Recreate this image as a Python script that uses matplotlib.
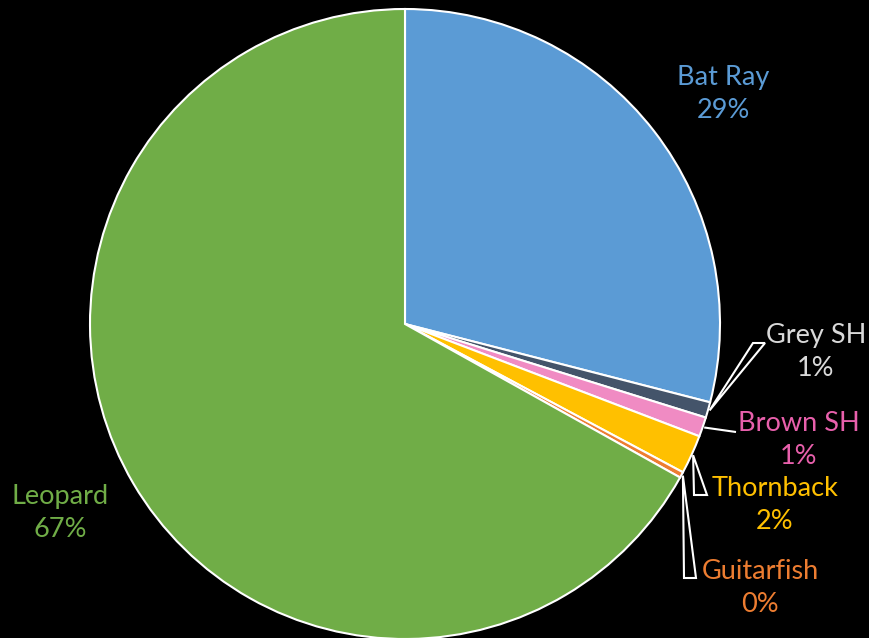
import matplotlib.pyplot as plt
from matplotlib.patches import Polygon
import numpy as np

# slice data (percent), clockwise from 12 o'clock
species = ['Bat Ray', 'Grey SH', 'Brown SH', 'Thornback', 'Guitarfish', 'Leopard']
shares = [29.0, 0.8, 1.0, 2.0, 0.3, 66.9]
labels_pct = ['29%', '1%', '1%', '2%', '0%', '67%']

slice_colors = ['#5B9BD5', '#44546A', '#F08BC3', '#FFC000', '#ED7D31', '#70AD47']
text_colors = ['#5B9BD5', '#D9D9D9', '#E860AC', '#FFC000', '#ED7D31', '#70AD47']

W, H = 869, 638
cx, cy, R = 405, 324, 315


def to_data(px, py):
    # pixel position -> data coords of the pie axes
    return (px - cx) / R, (cy - py) / R


fig = plt.figure(figsize=(W / 100, H / 100), dpi=100, facecolor='black')
ax = fig.add_axes([(cx - R) / W, (H - cy - R) / H, 2 * R / W, 2 * R / H])
ax.set_facecolor('black')

wedges, _ = ax.pie(shares, colors=slice_colors, startangle=90, counterclock=False,
                   radius=1.0, wedgeprops=dict(edgecolor='white', linewidth=1.5))
ax.set_xlim(-1, 1)
ax.set_ylim(-1, 1)
ax.set_aspect('equal')
ax.axis('off')

# label block centres (pixels)
label_pos = [(723, 94), (816, 352), (799, 440), (775, 505), (760, 588), (60, 513)]

for name, pct, col, (px, py) in zip(species, labels_pct, text_colors, label_pos):
    x, y = to_data(px, py)
    ax.text(x, y, name + '\n' + pct, color=col, fontsize=19.5, family='Lato',
            ha='center', va='center', linespacing=1.4, clip_on=False)

# callout leaders for the small slices (base segment in pixels)
leader_base = {1: ((753, 343), (765, 343)),
               2: ((736, 432), (736, 432)),
               3: ((694, 495), (707, 495)),
               4: ((684, 578), (696, 578))}

cum = np.cumsum([0] + shares[:-1])
for i, (b1, b2) in leader_base.items():
    mid = np.deg2rad(90 - 360 * (cum[i] + shares[i] / 2) / 100)
    apex = (np.cos(mid) * 1.005, np.sin(mid) * 1.005)
    pts = [apex, to_data(*b1), to_data(*b2)]
    ax.add_patch(Polygon(pts, closed=True, fill=False, edgecolor='white',
                         linewidth=1.5, clip_on=False))

fig.savefig('out.png', dpi=100, facecolor='black')
